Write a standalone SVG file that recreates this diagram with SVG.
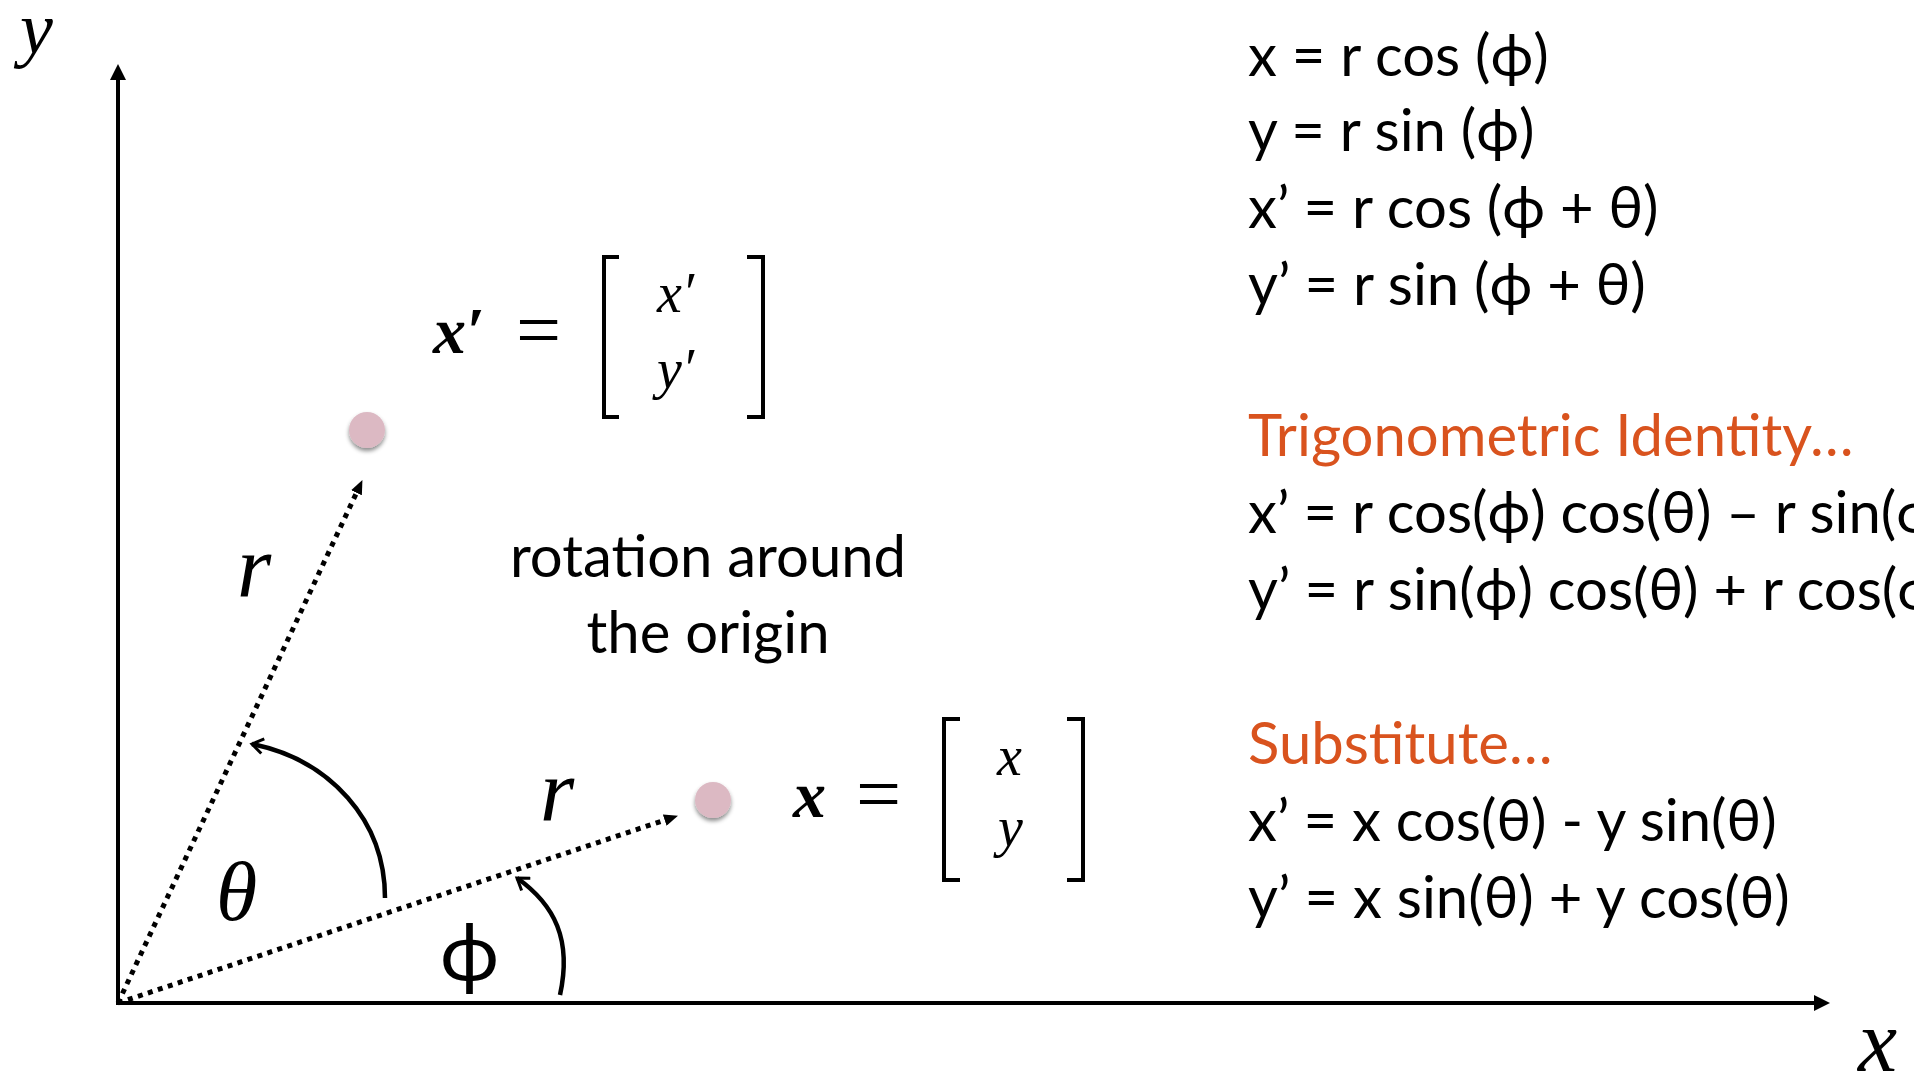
<svg xmlns="http://www.w3.org/2000/svg" width="1914" height="1080" viewBox="0 0 1914 1080">
<style>
.eq{font-family:Lato,"Open Sans","DejaVu Sans",sans-serif;font-size:58px;font-weight:400;fill:#000}
.hd{font-family:Lato,"Open Sans","DejaVu Sans",sans-serif;font-size:58px;font-weight:400;fill:#d9531e}
.mi{font-family:"Liberation Serif","DejaVu Serif",serif;font-style:italic;fill:#000}
.mb{font-family:"Liberation Serif","DejaVu Serif",serif;font-style:italic;font-weight:bold;fill:#000}
.mr{font-family:"Liberation Serif","DejaVu Serif",serif;fill:#000}
.axis{stroke:#000;stroke-width:4;fill:none}
.dot{stroke:#000;stroke-width:5;stroke-dasharray:5 5.5;fill:none}
.arc{stroke:#000;stroke-width:4.5;fill:none}
.br{stroke:#000;stroke-width:4;fill:none}
.pt{fill:#dcb9c3}
</style>
<defs>
<marker id="axhead" markerUnits="userSpaceOnUse" markerWidth="16" markerHeight="16" viewBox="0 0 15 15" refX="0" refY="7.5" orient="auto"><path d="M0,0 L15,7.5 L0,15 Z" fill="#000"/></marker>
<marker id="dothead" markerUnits="userSpaceOnUse" markerWidth="14" markerHeight="12" viewBox="0 0 13 11" refX="0" refY="5.5" orient="auto"><path d="M0,0 L13,5.5 L0,11 Z" fill="#000"/></marker>
<marker id="chev" markerUnits="userSpaceOnUse" markerWidth="16" markerHeight="18" viewBox="0 0 16 18" refX="13" refY="9" orient="auto"><path d="M2,1.5 L13,9 L2,16.5" fill="none" stroke="#000" stroke-width="3"/></marker>
<filter id="sh" x="-50%" y="-50%" width="200%" height="200%"><feDropShadow dx="0" dy="3" stdDeviation="2" flood-color="#000" flood-opacity="0.45"/></filter>
</defs>

<g id="connectors">
<path id="y-axis" class="axis" d="M118,1005 L118,80" marker-end="url(#axhead)"/>
<path id="x-axis" class="axis" d="M116,1003 L1814,1003" marker-end="url(#axhead)"/>
<path id="r-xprime" class="dot" d="M118,1003 L356.5,492.8" marker-end="url(#dothead)"/>
<path id="r-x" class="dot" d="M118,1003 L664.7,820.1" marker-end="url(#dothead)"/>
<path id="theta-arc" class="arc" d="M385,898 C385,820 330,760 252,744" marker-end="url(#chev)"/>
<path id="phi-arc" class="arc" d="M560,995 C572,940 555,905 517,878" marker-end="url(#chev)"/>
</g>

<g id="axis-labels">
<text class="mi" x="20" y="53" font-size="74">y</text>
<text class="mi" x="1858" y="1071" font-size="88">x</text>
</g>

<g id="node-xprime">
<circle class="pt" cx="367" cy="430" r="18" filter="url(#sh)"/>
<text class="mb" x="433" y="353" font-size="66">x′</text>
<text class="mr" x="516" y="357" font-size="80">=</text>
<path class="br" d="M619,257 L604,257 L604,417 L619,417"/>
<path class="br" d="M747,257 L763,257 L763,417 L747,417"/>
<text class="mi" x="657" y="312" font-size="56">x′</text>
<text class="mi" x="657" y="388" font-size="56">y′</text>
</g>

<g id="node-x">
<circle class="pt" cx="713" cy="800" r="18" filter="url(#sh)"/>
<text class="mb" x="793" y="817" font-size="66">x</text>
<text class="mr" x="856" y="821" font-size="80">=</text>
<path class="br" d="M960,719 L944,719 L944,880 L960,880"/>
<path class="br" d="M1067,719 L1083,719 L1083,880 L1067,880"/>
<text class="mi" x="997" y="775" font-size="56">x</text>
<text class="mi" x="998" y="846" font-size="56">y</text>
</g>

<g id="labels">
<text class="mi" x="237" y="596" font-size="88">r</text>
<text class="mi" x="540" y="820" font-size="88">r</text>
<text class="mi" x="216" y="920" font-size="84">θ</text>
<text class="eq" x="440" y="980" style="font-size:80px">ϕ</text>
<text class="eq" x="708" y="577" text-anchor="middle">rotation around</text>
<text class="eq" x="708" y="653" text-anchor="middle">the origin</text>
</g>

<g id="equations">
<text class="eq" x="1248" y="76">x = r cos (ϕ)</text>
<text class="eq" x="1248" y="151">y = r sin (ϕ)</text>
<text class="eq" x="1248" y="228">x’ = r cos (ϕ + θ)</text>
<text class="eq" x="1248" y="305">y’ = r sin (ϕ + θ)</text>
<text class="hd" x="1248" y="456">Trigonometric Identity…</text>
<text class="eq" x="1248" y="533">x’ = r cos(ϕ) cos(θ) – r sin(ϕ) sin(θ)</text>
<text class="eq" x="1248" y="610">y’ = r sin(ϕ) cos(θ) + r cos(ϕ) sin(θ)</text>
<text class="hd" x="1248" y="764">Substitute…</text>
<text class="eq" x="1248" y="841">x’ = x cos(θ) - y sin(θ)</text>
<text class="eq" x="1248" y="918">y’ = x sin(θ) + y cos(θ)</text>
</g>
</svg>
